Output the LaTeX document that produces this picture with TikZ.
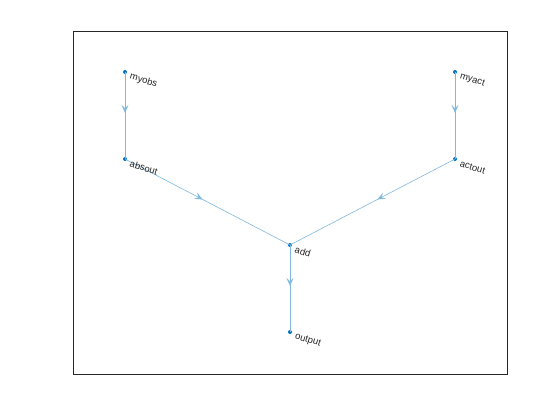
\documentclass[tikz,border=0pt]{standalone}
\usepackage{fontspec}
\setmainfont{Liberation Sans}
\usetikzlibrary{arrows.meta,decorations.markings}
\definecolor{mblue}{RGB}{0,114,189}
\definecolor{eblue}{RGB}{128,185,222}
\tikzset{
  gnode/.style={circle,fill=mblue,inner sep=0pt,minimum size=4pt},
  glabel/.style={anchor=west,rotate=-17,inner sep=0pt,font=\fontsize{9.5}{10}\selectfont,text=black!85},
  gedge/.style={draw=eblue,line width=0.6pt,postaction={decorate},
    decoration={markings,mark=at position 0.47 with {\arrow{Stealth[length=8pt,width=7pt,inset=3.5pt]}}}}
}
\begin{document}
\begin{tikzpicture}[x=1pt,y=-1pt]
\useasboundingbox (0,0) rectangle (560,420);
\fill[white] (0,0) rectangle (560,420);
\draw[line width=0.6pt,black!85] (73,31.5) rectangle (507,374);
\node[gnode] (myobs) at (125,72) {};
\node[gnode] (myact) at (455,72) {};
\node[gnode] (absout) at (125,159) {};
\node[gnode] (actout) at (455,159) {};
\node[gnode] (add) at (290,245) {};
\node[gnode] (output) at (290,332) {};
\draw[gedge] (myobs.center) -- (absout.center);
\draw[gedge] (myact.center) -- (actout.center);
\draw[gedge] (absout.center) -- (add.center);
\draw[gedge] (actout.center) -- (add.center);
\draw[gedge] (add.center) -- (output.center);
\foreach \n/\t in {myobs/myobs,myact/myact,absout/absout,actout/actout,add/add,output/output}
  \node[glabel] at ([xshift=5pt,yshift=-4.5pt]\n.center) {\t};
\end{tikzpicture}
\end{document}
